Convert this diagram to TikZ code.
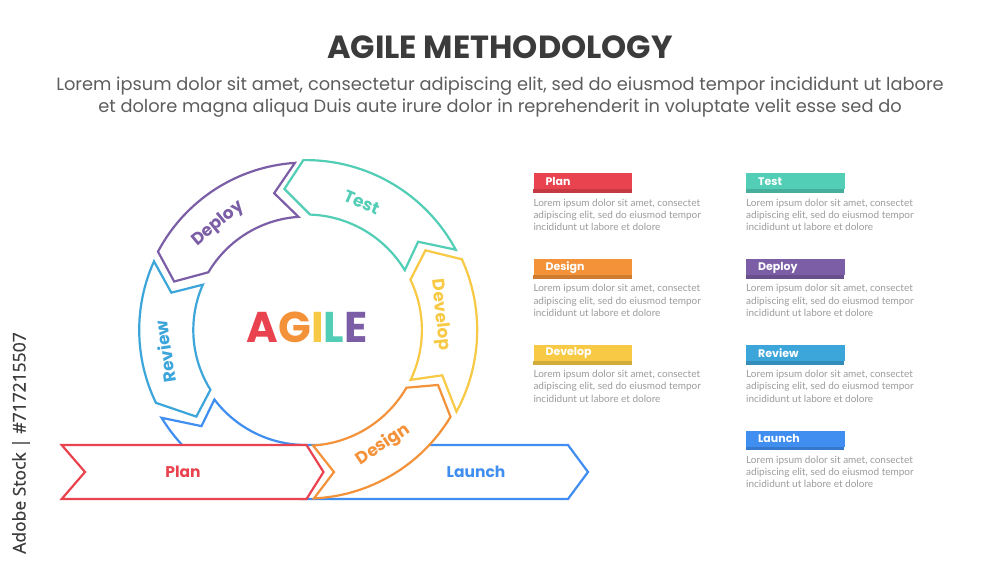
\documentclass[tikz,border=0pt]{standalone}
\usepackage{fontspec}
\setmainfont{Poppins}
\newfontfamily\lato{Lato}
\newfontfamily\opensans[FakeBold=0.6]{Open Sans}
\definecolor{cPlan}{HTML}{E8434F}
\definecolor{cDesign}{HTML}{F4923A}
\definecolor{cDevelop}{HTML}{F8C944}
\definecolor{cTest}{HTML}{52CDB6}
\definecolor{cDeploy}{HTML}{7B5EA6}
\definecolor{cReview}{HTML}{3CA5DA}
\definecolor{cLaunch}{HTML}{3F8EF0}
\definecolor{cTitle}{HTML}{3B3B3B}
\definecolor{cSub}{HTML}{5E5E5E}
\definecolor{cBody}{HTML}{9C9C9C}
\newcommand\agseg[9]{%
  \draw[seg, draw=#1] (#4:#2) arc[start angle=#4, end angle=#7, radius=#2]
    -- (#8:{(#2+#3)/2}) -- (#9:#3) arc[start angle=#9, end angle=#6, radius=#3]
    -- (#5:{(#2+#3)/2}) -- cycle;}
\newcommand\infobox[5]{%
  \fill[#2!85!black] (#4,#5-20) rectangle ++(98.4,4);
  \node[boxnode, fill=#2, anchor=north west] (#1) at (#4,#5) {};
  \node[boxlabel, anchor=west] (#1-t) at (#4+12,#5-8.5) {#3};
  \node[desc, anchor=north west] (#1-d) at (#4,#5-25.3)
    {Lorem ipsum dolor sit amet, consectet\\adipiscing elit, sed do eiusmod tempor\\incididunt ut labore et dolore};}
\begin{document}
\begin{tikzpicture}[x=1pt,y=1pt,
  seg/.style={line width=2.2pt, fill=white, line join=miter},
  seglabel/.style={font=\bfseries\fontsize{17}{18}\selectfont, inner sep=0},
  arrowlabel/.style={font=\bfseries\fontsize{15.5}{16}\selectfont, inner sep=0},
  boxnode/.style={minimum width=98.4pt, minimum height=16pt, inner sep=0, draw=none},
  boxlabel/.style={font=\bfseries\fontsize{11}{12}\selectfont, text=white, inner sep=0},
  desc/.style={font=\lato\fontsize{10}{12.3}\selectfont, text=cBody, align=left, inner sep=0}]
\useasboundingbox (0,0) rectangle (1000,563);
\fill[white] (0,0) rectangle (1000,563);

% title and subtitle
\node[font=\bfseries\fontsize{32}{36}\selectfont, text=cTitle] (title) at (500,516) {AGILE METHODOLOGY};
\node[font=\fontsize{17.8}{22}\selectfont, text=cSub, align=center] (sub) at (500,466)
  {Lorem ipsum dolor sit amet, consectetur adipiscing elit, sed do eiusmod tempor incididunt ut labore\\
   et dolore magna aliqua Duis aute irure dolor in reprehenderit in voluptate velit esse sed do};

% watermark text
\node[font=\opensans\fontsize{17.5}{18}\selectfont, text=cTitle, rotate=90] (wm) at (21,120) {Adobe Stock | \#717215507};

\begin{scope}[shift={(306,233)}]
  % Launch (blue) base shape
  \draw[seg, draw=cLaunch] (217.2:115) arc[start angle=217.2, end angle=270, radius=115]
    -- (262,-115) -- (282,-142) -- (262,-169) -- (0,-169)
    arc[start angle=270, end angle=211.3, radius=169] -- (222.6:142) -- cycle;
  % Plan arrow
  \draw[seg, draw=cPlan] (-244.3,-115) -- (0.5,-115) -- (17.5,-142) -- (0.5,-169)
    -- (-244.3,-169) -- (-221,-142) -- cycle;
  % Design
  \draw[seg, draw=cDesign] (7,-115.5) arc[start angle=-86.5, end angle=-30, radius=116]
    -- (-22.6:143) -- (-31:168.6) arc[start angle=-31, end angle=-87.3, radius=168.6]
    -- (28,-142) -- cycle;
  % Develop, Test, Deploy, Review
  \agseg{cDevelop}{115.9}{171.2}{-25.5}{-18.4}{-28.5}{25.7}{33.7}{24.4}
  \agseg{cTest}{115.5}{169.9}{31.2}{38.2}{28.2}{88}{98.7}{90.9}
  \agseg{cDeploy}{113.4}{167.5}{93.8}{103.1}{93.8}{149.4}{159.8}{152.1}
  \agseg{cReview}{112.7}{166.8}{156.3}{164.5}{155.7}{212}{218.3}{205.9}

  % labels
  \node[arrowlabel, text=cPlan] (lplan) at (-123,-142) {Plan};
  \node[arrowlabel, text=cLaunch] (llaunch) at (170,-142) {Launch};
  \node[seglabel, text=cDesign, rotate=33.9] (ldesign) at (-56.1:138.6) {Design};
  \node[seglabel, text=cDevelop, rotate=-83.6] (ldevelop) at (6.4:135) {Develop};
  \node[seglabel, text=cTest, rotate=-23.6] (ltest) at (66.4:139) {Test};
  \node[seglabel, text=cDeploy, rotate=39.6] (ldeploy) at (129.6:137.6) {Deploy};
  \node[seglabel, text=cReview, rotate=98.7] (lreview) at (188.7:142.7) {Review};

  % centre word
  \node[font=\bfseries\fontsize{43}{46}\selectfont, inner sep=0] (agile) at (1,3)
    {\textcolor{cPlan}{A}\textcolor{cDesign}{G}\textcolor{cDevelop}{I}\textcolor{cTest}{L}\textcolor{cDeploy}{E}};
\end{scope}

% info boxes
\infobox{iplan}{cPlan}{Plan}{533.3}{389.7}
\infobox{idesign}{cDesign}{Design}{533.3}{304}
\infobox{idevelop}{cDevelop}{Develop}{533.3}{218.3}
\infobox{itest}{cTest}{Test}{746}{389.7}
\infobox{ideploy}{cDeploy}{Deploy}{746}{304}
\infobox{ireview}{cReview}{Review}{746}{218.3}
\infobox{ilaunch}{cLaunch}{Launch}{746}{132.6}
\end{tikzpicture}
\end{document}
